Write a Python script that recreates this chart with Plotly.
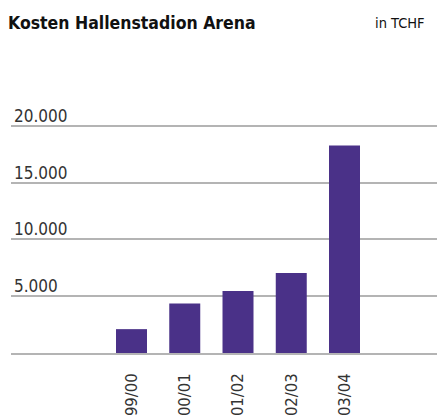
import plotly.graph_objects as go

categories = ["99/00", "00/01", "01/02", "02/03", "03/04"]
kosten = [2100, 4350, 5450, 7050, 18250]
tick_values = [5000, 10000, 15000, 20000]

FONT = "DejaVu Sans Condensed"

Y_MAX = 22000
PLOT_H = 227 * Y_MAX / 20000
TOP = 353 - PLOT_H

fig = go.Figure()
fig.add_trace(go.Bar(x=categories, y=kosten, marker_color="#4a3188",
                     marker_line_width=0, hoverinfo="skip"))

fig.update_layout(
    width=437, height=417,
    margin=dict(l=11, r=0, t=TOP, b=64, autoexpand=False),
    paper_bgcolor="white", plot_bgcolor="white",
    separators=",.",
    bargap=0.418,
    showlegend=False,
    font=dict(family=FONT, size=17, color="#333333"),
    title=dict(text="<b>Kosten Hallenstadion Arena</b>", xref="container", yref="container",
               x=8/437, xanchor="left", y=1-23/417, yanchor="middle",
               font=dict(family=FONT, size=17.5, color="#111111")),
    annotations=[dict(text="in TCHF", xref="paper", yref="paper",
                      x=(427-11)/426, xanchor="right", y=(353-23)/PLOT_H, yanchor="middle",
                      showarrow=False, font=dict(family=FONT, size=14.5, color="#111111"))],
)
fig.update_xaxes(type="category", range=[-2.263, 5.737], tickangle=-90, automargin=False,
                 showline=True, linecolor="#b4b4b4", linewidth=1.5,
                 showgrid=False, ticks="", ticklabelstandoff=12,
                 tickfont=dict(family=FONT, size=16.5, color="#333333"))
fig.update_yaxes(range=[0, Y_MAX], tickvals=tick_values, tickformat=",d", automargin=False,
                 showgrid=True, gridcolor="#b4b4b4", gridwidth=1.5,
                 zeroline=False, showline=False, ticks="",
                 ticklabelposition="inside", ticklabelshift=-10, ticklabelstandoff=0,
                 tickfont=dict(family=FONT, size=17, color="#333333"))

fig.write_html("out.html", config={"displayModeBar": False},
               post_script="document.body.style.margin='0';")
